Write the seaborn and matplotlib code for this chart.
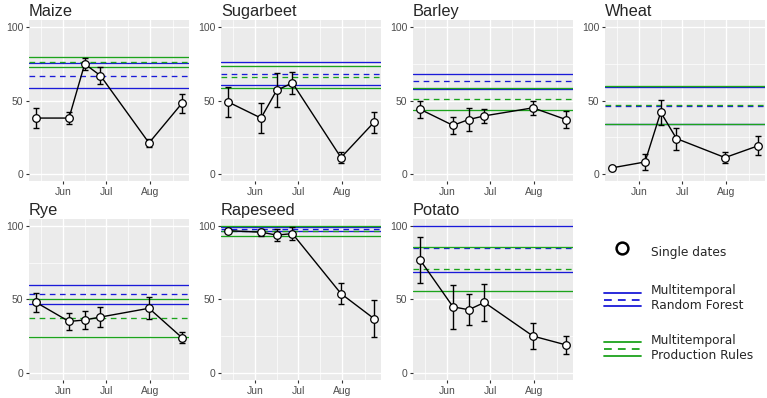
import pandas as pd
import matplotlib
matplotlib.use('Agg')
import matplotlib.pyplot as plt
import matplotlib.dates as mdates
from matplotlib.lines import Line2D
from matplotlib.legend_handler import HandlerBase
from matplotlib.ticker import FixedLocator
import seaborn as sns

# acquisition dates (single-date classifications)
dates = pd.to_datetime(['2017-05-13', '2017-06-05', '2017-06-16',
                        '2017-06-27', '2017-07-31', '2017-08-23'])

crops = ['Maize', 'Sugarbeet', 'Barley', 'Wheat', 'Rye', 'Rapeseed', 'Potato']

# single date accuracy and error bar half width
maize_acc = [38, 38, 75, 67, 21, 48]
maize_err = [7, 4, 4, 6, 2.5, 6.5]
sugarbeet_acc = [49, 38, 57, 62, 11, 35]
sugarbeet_err = [10, 10, 11.5, 7.5, 3.5, 7]
barley_acc = [44, 33, 37, 39.5, 45, 37]
barley_err = [6, 6, 8, 5, 5, 5.5]
wheat_acc = [4, 8, 42, 24, 11, 19]
wheat_err = [0.8, 5.5, 8.5, 7.5, 4, 6.5]
rye_acc = [48, 35, 36, 38, 44, 24]
rye_err = [6.5, 5.5, 6, 7, 7.5, 4]
rapeseed_acc = [97, 96, 94, 95, 54, 37]
rapeseed_err = [1, 2.5, 4, 4.5, 7, 12.5]
potato_acc = [77, 45, 43, 48, 25, 19]
potato_err = [15.5, 15, 10.7, 12.8, 9, 6]

# multitemporal results: (upper, mean, lower)
maize_rf = [75.6, 67, 58.6]
maize_pr = [79.4, 76.5, 73]
sugarbeet_rf = [76.4, 68.3, 60.6]
sugarbeet_pr = [73.6, 66, 58.3]
barley_rf = [68, 63, 58]
barley_pr = [58.4, 51.3, 43.6]
wheat_rf = [59, 46.5, 34]
wheat_pr = [59.6, 46.6, 33.8]
rye_rf = [60, 53.6, 47]
rye_pr = [50, 37.4, 24.5]
rapeseed_rf = [99.6, 98.3, 97]
rapeseed_pr = [100, 96.8, 93.5]
potato_rf = [100, 85, 68.6]
potato_pr = [86, 71, 55.5]

acc = [maize_acc, sugarbeet_acc, barley_acc, wheat_acc, rye_acc, rapeseed_acc, potato_acc]
err = [maize_err, sugarbeet_err, barley_err, wheat_err, rye_err, rapeseed_err, potato_err]
rf = [maize_rf, sugarbeet_rf, barley_rf, wheat_rf, rye_rf, rapeseed_rf, potato_rf]
pr = [maize_pr, sugarbeet_pr, barley_pr, wheat_pr, rye_pr, rapeseed_pr, potato_pr]

BLUE = '#1a1ad8'
GREEN = '#1ca31c'
DASH = (4.3, 3.4)

sns.set_theme(style='darkgrid')
plt.rcParams['font.family'] = ['Liberation Sans', 'DejaVu Sans']
plt.rcParams['axes.facecolor'] = '#EBEBEB'

fig, axes = plt.subplots(2, 4, figsize=(7.67, 3.98), dpi=100)
fig.subplots_adjust(left=29/767, right=765/767, top=1-20/398, bottom=1-380/398,
                    wspace=0.2, hspace=0.236)

xmin = pd.Timestamp('2017-05-08')
xmax = pd.Timestamp('2017-08-28')
minor_x = pd.to_datetime(['2017-05-16 12:00', '2017-06-16 00:00',
                          '2017-07-16 12:00', '2017-08-16 12:00'])

for i, name in enumerate(crops):
    ax = axes.flat[i]
    df = pd.DataFrame({'date': dates, 'acc': acc[i], 'err': err[i]})

    for vals, col in [(rf[i], BLUE), (pr[i], GREEN)]:
        ax.axhline(vals[0], color=col, lw=0.95, zorder=2)
        ax.axhline(vals[1], color=col, lw=0.95, dashes=DASH, zorder=2)
        ax.axhline(vals[2], color=col, lw=0.95, zorder=2)

    ax.errorbar(df['date'], df['acc'], yerr=df['err'], fmt='none', ecolor='black',
                elinewidth=1.0, capsize=2.3, capthick=1.0, zorder=3)
    sns.lineplot(data=df, x='date', y='acc', ax=ax, color='black', lw=1.0, zorder=4)
    sns.scatterplot(data=df, x='date', y='acc', ax=ax, s=30, color='white',
                    edgecolor='black', linewidth=0.9, zorder=5)

    ax.set_xlim(xmin, xmax)
    ax.set_ylim(-5, 105)
    ax.set_yticks([0, 50, 100])
    ax.yaxis.set_minor_locator(FixedLocator([25, 75]))
    ax.xaxis.set_major_locator(mdates.MonthLocator(bymonth=[6, 7, 8]))
    ax.xaxis.set_major_formatter(mdates.DateFormatter('%b'))
    ax.xaxis.set_minor_locator(FixedLocator(mdates.date2num(minor_x)))
    ax.grid(which='major', color='white', lw=1.0)
    ax.grid(which='minor', color='white', lw=0.5)
    ax.tick_params(which='major', length=2.5, width=0.8, color='#333333',
                   labelsize=7.5, labelcolor='#4D4D4D', pad=1.5, bottom=True, left=True)
    ax.tick_params(which='minor', length=0)
    ax.set_xlabel('')
    ax.set_ylabel('')
    ax.set_title(name, loc='left', fontsize=11.8, pad=3)
    for s in ax.spines.values():
        s.set_visible(False)

# legend panel
axes.flat[7].axis('off')


class HandlerStack(HandlerBase):
    def create_artists(self, legend, orig_handle, xdescent, ydescent, width, height, fontsize, trans):
        artists = []
        yc = height / 2 - ydescent
        for k, ln in enumerate(orig_handle):
            y = yc + (1 - k) * 4.8
            l = Line2D([-xdescent, -xdescent + width], [y, y], color=ln.get_color(),
                       lw=ln.get_linewidth(), linestyle=ln.get_linestyle())
            if k == 1:
                l.set_dashes(DASH)
            l.set_transform(trans)
            artists.append(l)
        return artists


circ = Line2D([], [], marker='o', ls='none', markersize=8.5, markerfacecolor='white',
              markeredgecolor='black', markeredgewidth=1.8)
rf_h = (Line2D([], [], color=BLUE, lw=1.3), Line2D([], [], color=BLUE, lw=1.3, ls='--'),
        Line2D([], [], color=BLUE, lw=1.3))
pr_h = (Line2D([], [], color=GREEN, lw=1.3), Line2D([], [], color=GREEN, lw=1.3, ls='--'),
        Line2D([], [], color=GREEN, lw=1.3))

fig.legend([circ, rf_h, pr_h],
           ['Single dates', 'Multitemporal\nRandom Forest', 'Multitemporal\nProduction Rules'],
           handler_map={tuple: HandlerStack()},
           loc='upper left', bbox_to_anchor=(604/767, 1-241/398), bbox_transform=fig.transFigure,
           frameon=False, borderpad=0, borderaxespad=0, handlelength=3.0, handleheight=2.4,
           handletextpad=0.85, labelspacing=1.75, prop={'family': 'DejaVu Sans', 'size': 8.8})

fig.savefig('out.png', dpi=100)
